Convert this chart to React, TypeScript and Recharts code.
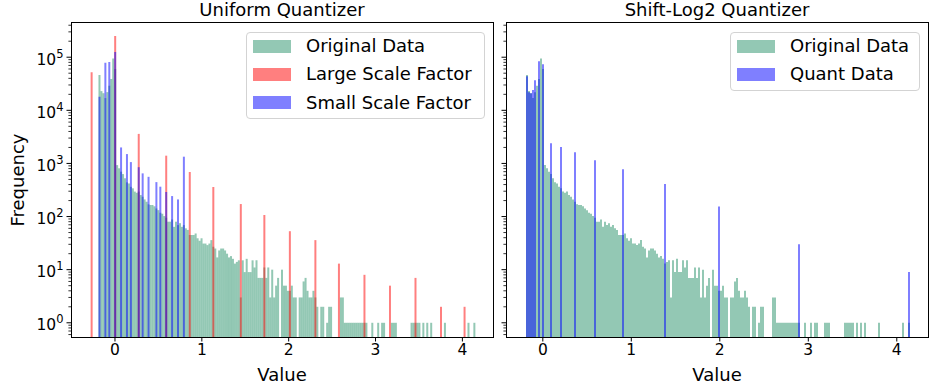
import React from 'react';
import { ComposedChart, Bar, XAxis, YAxis, Legend } from 'recharts';

const FONT = '"DejaVu Sans", sans-serif';
const W = 929;
const H = 388;
const PLOT_TOP = 22;
const PLOT_BOTTOM = 337;
const X_AXIS_H = 40;

// histogram bin width and left edge of the first "original data" bin
const BIN_W = 0.0226;
const FIRST_EDGE = -0.19;

// original data histogram, one count per bin starting at FIRST_EDGE
const originalCounts = [
  46000, 23000, 21000, 17000, 22000, 29000, 39000, 95000, 60000,
  930, 810, 700, 630, 525, 440, 420, 363, 340, 295, 280, 295, 254, 236, 210, 190,
  170, 165, 165, 156, 142, 132, 118, 113, 102, 95, 80, 80, 88, 64, 80, 69, 75, 64,
  69, 60, 56, 45, 45, 45, 48, 39, 35, 39, 31, 31, 29, 31, 36, 27, 25, 17, 23, 25,
  25, 23, 20, 17, 18, 16, 13, 14, 15, 3, 15, 9, 16, 9, 9, 15, 11, 15, 7, 7, 7, 11,
  7, 11, 3, 10, 3, 5, 7, 0, 10, 5, 5, 4,
  4, 5, 3, 3, 0, 3, 3, 6, 7, 4, 3, 3, 4, 3, 2, 0, 2, 2, 0, 1, 2, 2,
  0, 0, 0, 0, 3, 3,
  1, 1, 1, 1, 1, 1, 1, 1, 1, 1, 1, 1,
  0, 0, 1, 0, 0, 1, 0, 1, 1, 0, 0, 0, 1, 1, 1,
  0, 0, 0, 0, 0, 0, 0, 1, 1, 1, 1, 1, 0, 1, 0, 1, 0, 1,
  0, 0, 0, 0, 0, 0, 1,
  0, 0, 0, 0, 0, 0, 0, 0, 0, 0, 0, 1, 0, 0, 1,
];

// uniform quantizer, large scale factor
const largeScaleX = [-0.277, 0, 0.277, 0.588, 0.865, 1.142, 1.44, 1.72, 2.02, 2.307, 2.58, 2.88, 3.16, 3.45, 3.75, 4.03];
const largeScaleCounts = [52000, 250000, 3600, 1400, 690, 360, 172, 107, 53, 36, 13, 8, 5, 7, 2, 2];

// uniform quantizer, small scale factor
const smallScaleX = [-0.18, -0.12, -0.066, -0.005, 0.069, 0.127, 0.185, 0.265, 0.327, 0.389, 0.469, 0.527, 0.588, 0.665, 0.727, 0.796];
const smallScaleCounts = [18000, 79000, 81000, 125000, 2000, 1500, 1060, 850, 650, 560, 445, 365, 290, 243, 210, 1340];

// shift-log2 quantizer
const log2X = [-0.18, -0.157, -0.134, -0.111, -0.088, -0.045, 0.005, 0.083, 0.205, 0.353, 0.59, 0.9, 1.37, 1.99, 2.9, 4.14];
const log2Counts = [44000, 22000, 21000, 24000, 37000, 84000, 74000, 2400, 2040, 1630, 1150, 780, 410, 155, 30, 9];

const xTicks = [0, 1, 2, 3, 4];
const yDecades = [0, 1, 2, 3, 4, 5];
const Y_DOMAIN = [0.54, 460000];

const yTicks: number[] = [];
[-1, ...yDecades].forEach((d) => {
  for (let m = 1; m <= 9; m++) {
    const v = m * Math.pow(10, d);
    if (v >= Y_DOMAIN[0] && v <= Y_DOMAIN[1]) yTicks.push(v);
  }
});

const GREEN = '#27926a';
const RED = '#ff0000';
const BLUE = '#0000ff';

function buildRows(firstSlot: number, nSlots: number, marks: [string, number[], number[]][]) {
  const xMin = FIRST_EDGE - firstSlot * BIN_W;
  const rows: any[] = [];
  for (let i = 0; i < nSlots; i++) rows.push({ slot: i, x: xMin + (i + 0.5) * BIN_W });
  originalCounts.forEach((c, j) => {
    if (c > 0 && rows[firstSlot + j]) rows[firstSlot + j].orig = c;
  });
  marks.forEach(([key, xs, cs]) => {
    xs.forEach((x, k) => {
      const s = Math.round((x - xMin) / BIN_W - 0.5);
      if (rows[s]) rows[s][key] = cs[k];
    });
  });
  return { rows, domain: [xMin, xMin + nSlots * BIN_W] };
}

const leftData = buildRows(14, 215, [
  ['large', largeScaleX, largeScaleCounts],
  ['small', smallScaleX, smallScaleCounts],
]);
const rightData = buildRows(10, 211, [['quant', log2X, log2Counts]]);

const LogTick = (props: any) => {
  const { y, payload, axisX, showLabel } = props;
  const v = payload.value;
  const e = Math.log10(v);
  const major = Math.abs(e - Math.round(e)) < 1e-6;
  return (
    <g>
      <line x1={axisX} x2={axisX - (major ? 4.5 : 2.6)} y1={y} y2={y} stroke="#000" strokeWidth={major ? 1 : 0.8} />
      {major && showLabel && (
        <text x={axisX - 7.5} y={y + 7.7} textAnchor="end" fontSize={15.5} fill="#000" fontFamily={FONT}>
          10<tspan dy={-7} fontSize={11.5}>{Math.round(e)}</tspan>
        </text>
      )}
    </g>
  );
};

const LegendBox = ({ items, width, height }: any) => (
  <div
    style={{
      position: 'relative', width, height, boxSizing: 'border-box', border: '1px solid #d3d3d3',
      borderRadius: 4, background: 'rgba(255,255,255,0.8)', fontFamily: FONT, fontSize: 18, color: '#000',
    }}
  >
    {items.map((it: any, i: number) => (
      <div key={it.name} style={{ position: 'absolute', left: 6, top: 6 + i * 28.3, height: 14, display: 'flex', alignItems: 'center' }}>
        <span style={{ display: 'inline-block', width: 38, height: 13, background: it.color, opacity: 0.5 }} />
        <span style={{ marginLeft: 15, lineHeight: '14px', whiteSpace: 'nowrap' }}>{it.name}</span>
      </div>
    ))}
  </div>
);

type Series = { key: string; name: string; color: string };

const Panel = ({ offsetX, width, axisX, marginRight, data, series, legendPos, showYLabels }: any) => (
  <div style={{ position: 'absolute', left: offsetX, top: 0 }}>
    <ComposedChart
      width={width}
      height={H}
      data={data.rows}
      barCategoryGap={0}
      barGap={0}
      margin={{ top: PLOT_TOP, right: marginRight, bottom: H - PLOT_BOTTOM - X_AXIS_H, left: 0 }}
      style={{ fontFamily: FONT }}
    >
      <XAxis
        xAxisId="ticks"
        dataKey="x"
        type="number"
        domain={data.domain}
        allowDataOverflow
        ticks={xTicks}
        interval={0}
        height={X_AXIS_H}
        axisLine={false}
        tickSize={4.5}
        tickMargin={2}
        tickLine={{ stroke: '#000', strokeWidth: 1 }}
        tick={{ fill: '#000', fontSize: 15.5, fontFamily: FONT }}
      />
      {series.map((s: Series) => (
        <XAxis key={s.key} xAxisId={s.key} dataKey="slot" type="category" height={0} hide />
      ))}
      <YAxis
        scale="log"
        type="number"
        domain={Y_DOMAIN}
        allowDataOverflow
        ticks={yTicks}
        interval={0}
        width={axisX}
        axisLine={false}
        tickLine={false}
        tick={(p: any) => <LogTick {...p} axisX={axisX} showLabel={showYLabels} />}
      />
      <Legend
        layout="vertical"
        align="center"
        verticalAlign="middle"
        wrapperStyle={{ left: legendPos.left, top: legendPos.top, width: legendPos.width, height: legendPos.height }}
        content={() => <LegendBox items={series} width={legendPos.width} height={legendPos.height} />}
      />
      {series.map((s: Series) => (
        <Bar key={s.key} xAxisId={s.key} dataKey={s.key} name={s.name} fill={s.color} fillOpacity={0.5} isAnimationActive={false} />
      ))}
    </ComposedChart>
  </div>
);

const leftSeries: Series[] = [
  { key: 'orig', name: 'Original Data', color: GREEN },
  { key: 'large', name: 'Large Scale Factor', color: RED },
  { key: 'small', name: 'Small Scale Factor', color: BLUE },
];
const rightSeries: Series[] = [
  { key: 'orig', name: 'Original Data', color: GREEN },
  { key: 'quant', name: 'Quant Data', color: BLUE },
];

const Frame = ({ left, right }: { left: number; right: number }) => (
  <div
    style={{
      position: 'absolute', left, top: PLOT_TOP, width: right - left + 1, height: PLOT_BOTTOM - PLOT_TOP + 1,
      boxSizing: 'border-box', border: '1px solid #000', pointerEvents: 'none',
    }}
  />
);

export default function App() {
  return (
    <div style={{ position: 'absolute', left: 0, top: 0, width: W, height: H, background: '#fff', overflow: 'hidden' }}>
      <Panel
        offsetX={0}
        width={500}
        axisX={71}
        marginRight={7}
        data={leftData}
        series={leftSeries}
        legendPos={{ left: 246, top: 32, width: 239, height: 87 }}
        showYLabels
      />
      <Panel
        offsetX={500}
        width={429}
        axisX={6}
        marginRight={1}
        data={rightData}
        series={rightSeries}
        legendPos={{ left: 230, top: 32, width: 190, height: 59 }}
        showYLabels={false}
      />
      <Frame left={71} right={493} />
      <Frame left={506} right={928} />
      <svg width={W} height={H} style={{ position: 'absolute', left: 0, top: 0, pointerEvents: 'none', fontFamily: FONT }}>
        <text x={282} y={16} textAnchor="middle" fontSize={18} fill="#000">Uniform Quantizer</text>
        <text x={717} y={16} textAnchor="middle" fontSize={18} fill="#000">Shift-Log2 Quantizer</text>
        <text x={282} y={381} textAnchor="middle" fontSize={18} fill="#000">Value</text>
        <text x={717} y={381} textAnchor="middle" fontSize={18} fill="#000">Value</text>
        <text x={24} y={180} textAnchor="middle" fontSize={18} fill="#000" transform="rotate(-90 24 180)">Frequency</text>
      </svg>
    </div>
  );
}
